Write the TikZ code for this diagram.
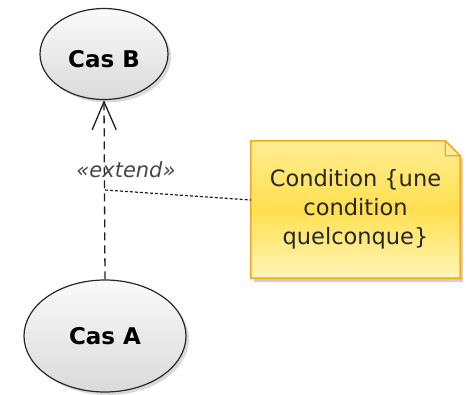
\documentclass[tikz,border=0pt]{standalone}
\usepackage{fontspec}
\setmainfont{DejaVu Sans}
\usetikzlibrary{arrows.meta,shadows,shapes.geometric}
\definecolor{ucborder}{RGB}{40,40,40}
\definecolor{uctop}{RGB}{250,250,250}
\definecolor{ucbot}{RGB}{218,218,218}
\definecolor{notetop}{RGB}{255,238,145}
\definecolor{notemid}{RGB}{255,223,80}
\definecolor{notebot}{RGB}{255,246,185}
\definecolor{notefold}{RGB}{255,238,160}
\definecolor{noteline}{RGB}{245,166,35}
\definecolor{linecol}{RGB}{30,30,30}
\definecolor{labelcol}{RGB}{70,70,70}
\tikzset{
  usecase/.style={ellipse, draw=ucborder, line width=1.2pt, inner sep=0pt,
    top color=uctop, bottom color=ucbot,
    drop shadow={shadow xshift=3pt, shadow yshift=-3pt, opacity=0.3},
    font=\fontsize{23}{27}\selectfont\bfseries, text=black},
  extendline/.style={draw=linecol, line width=1.3pt, dash pattern=on 8pt off 5pt},
  dotline/.style={draw=linecol, line width=1.2pt, dash pattern=on 3pt off 2pt},
  extlabel/.style={font=\fontsize{21}{25}\selectfont\itshape, text=labelcol, inner sep=0pt},
  notebox/.style={minimum width=209pt, minimum height=137pt, inner sep=0pt,
    align=center, font=\fontsize{22.5}{29}\selectfont, text=black!85}
}
\begin{document}
\begin{tikzpicture}[x=1pt,y=-1pt]
\useasboundingbox (0,0) rectangle (466,394);
% use cases
\node[usecase, minimum width=128pt, minimum height=91pt, text height=27pt, text depth=0pt] (B) at (104,54) {Cas B};
\node[usecase, minimum width=162pt, minimum height=112pt] (A) at (105,336) {Cas A};
% note
\node[notebox] (note) at (355.5,209.5) {};
\fill[black, opacity=0.18] ([xshift=3pt,yshift=-4pt]note.north west) -- ([xshift=-12pt,yshift=-4pt]note.north east)
  -- ([xshift=3pt,yshift=-19pt]note.north east) -- ([xshift=3pt,yshift=-4pt]note.south east)
  -- ([xshift=3pt,yshift=-4pt]note.south west) -- cycle;
\path[draw=noteline, line width=1.6pt, top color=notetop, bottom color=notebot, middle color=notemid]
  (note.north west) -- ([xshift=-15pt]note.north east) -- ([yshift=-15pt]note.north east)
  -- (note.south east) -- (note.south west) -- cycle;
\path[draw=noteline, line width=1.3pt, fill=notefold, line join=round]
  ([xshift=-15pt]note.north east) -- ([xshift=-15pt,yshift=-15pt]note.north east)
  -- ([yshift=-15pt]note.north east) -- cycle;
\node[notebox] at (note.center) {Condition \{une\\condition\\quelconque\}};
% extend relation
\draw[extendline, -{Straight Barb[length=28pt,width=24pt,line width=1.3pt]}] (A.north) -- (B.south);
\node[extlabel, anchor=base] (lbl) at (126,177) {«extend»};
\coordinate (ext) at (105,190);
\draw[dotline] (ext) -- ([yshift=9.5pt]note.west);
\end{tikzpicture}
\end{document}
